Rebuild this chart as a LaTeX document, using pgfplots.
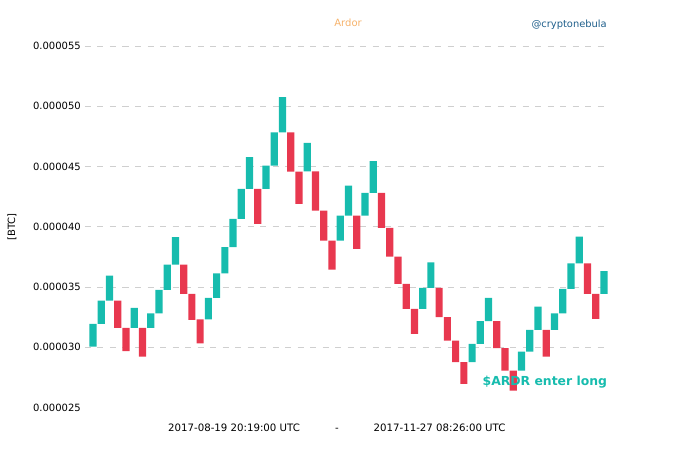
\documentclass[border=0pt]{standalone}
\usepackage{pgfplots}
\pgfplotsset{compat=1.18}
\usepackage{pgfplotstable}
\usepackage{fontspec}
\setmainfont{DejaVu Sans}
\definecolor{up}{HTML}{17BCAE}
\definecolor{down}{HTML}{E8384F}
\definecolor{ttl}{HTML}{F6B26B}
\definecolor{wm}{HTML}{1F5F8B}
\definecolor{gridc}{HTML}{CFCFCF}
\pgfplotstableread{
x low high c
1 30.06 31.94 1
2 31.94 33.88 1
3 33.88 35.95 1
4 31.61 33.88 0
5 29.67 31.61 0
6 31.61 33.27 1
7 29.23 31.61 0
8 31.61 32.82 1
9 32.82 34.76 1
10 34.76 36.86 1
11 36.86 39.13 1
12 34.43 36.86 0
13 32.27 34.43 0
14 30.33 32.32 0
15 32.32 34.10 1
16 34.10 36.14 1
17 36.14 38.30 1
18 38.30 40.66 1
19 40.66 43.15 1
20 43.15 45.77 1
21 40.24 43.15 0
22 43.15 45.08 1
23 45.08 47.84 1
24 47.84 50.75 1
25 44.58 47.84 0
26 41.90 44.58 0
27 44.60 46.96 1
28 41.34 44.60 0
29 38.85 41.34 0
30 36.45 38.85 0
31 38.85 40.93 1
32 40.93 43.42 1
33 38.17 40.93 0
34 40.93 42.81 1
35 42.81 45.44 1
36 39.91 42.81 0
37 37.53 39.91 0
38 35.26 37.53 0
39 33.19 35.26 0
40 31.11 33.19 0
41 33.19 34.93 1
42 34.93 37.05 1
43 32.49 34.93 0
44 30.56 32.49 0
45 28.76 30.56 0
46 26.96 28.76 0
47 28.76 30.28 1
48 30.28 32.16 1
49 32.16 34.10 1
50 29.92 32.16 0
51 28.07 29.92 0
52 26.41 28.07 0
53 28.07 29.64 1
54 29.64 31.44 1
55 31.44 33.38 1
56 29.23 31.44 0
57 31.44 32.82 1
58 32.82 34.85 1
59 34.85 36.97 1
60 36.97 39.19 1
61 34.43 36.97 0
62 32.36 34.43 0
63 34.43 36.31 1
}\bricks
\begin{document}
\begin{tikzpicture}
\path[use as bounding box] (-85pt,-46pt) rectangle (595pt,407.5pt);
\begin{axis}[
  at={(0,0)}, anchor=south west,
  scale only axis, width=523pt, height=361.5pt,
  xmin=0.03, xmax=63.49, ymin=25, ymax=55,
  axis line style={draw=none},
  major tick length=0pt,
  xtick=\empty,
  ytick={30,35,40,45,50,55},
  yticklabels={0.000030,0.000035,0.000040,0.000045,0.000050,0.000055},
  extra y ticks={25},
  extra y tick labels={0.000025},
  extra y tick style={grid=none},
  yticklabel style={font=\fontsize{10}{12}\selectfont, text=black, inner sep=0pt, anchor=east, xshift=-4pt},
  ymajorgrids,
  grid style={draw=gridc, line width=0.8pt, dash pattern=on 6pt off 6.5pt},
  ybar stacked, bar width=7.2pt,
  clip=false,
]
\node[anchor=east, inner sep=0pt, text=up, font=\bfseries\fontsize{12.4}{14}\selectfont] at (axis cs:63.4,27.07) {\$ARDR enter long};
\addplot[draw=none, fill=none] table[x=x, y=low] {\bricks};
\addplot[draw=none, fill=up] table[x=x, y expr={\thisrow{c}*(\thisrow{high}-\thisrow{low})}] {\bricks};
\addplot[draw=none, fill=down] table[x=x, y expr={(1-\thisrow{c})*(\thisrow{high}-\thisrow{low})}] {\bricks};
\node[anchor=base, inner sep=0pt, text=ttl, font=\fontsize{10}{12}\selectfont] at (rel axis cs:0.503,1) [yshift=19.5pt] {Ardor};
\node[anchor=base east, inner sep=0pt, text=wm, font=\fontsize{9.9}{12}\selectfont] at (rel axis cs:0.998,1) [yshift=18.5pt] {@cryptonebula};
\node[rotate=90, font=\fontsize{10}{12}\selectfont, text=black] at (axis description cs:-0.1396,0.5) {[BTC]};
\node[anchor=base, font=\fontsize{10.2}{12}\selectfont, text=black] at (rel axis cs:0.285,0) [yshift=-24pt] {2017-08-19 20:19:00 UTC};
\node[anchor=base, font=\fontsize{10.2}{12}\selectfont, text=black] at (rel axis cs:0.482,0) [yshift=-24pt] {-};
\node[anchor=base, font=\fontsize{10.2}{12}\selectfont, text=black] at (rel axis cs:0.678,0) [yshift=-24pt] {2017-11-27 08:26:00 UTC};
\end{axis}
\end{tikzpicture}
\end{document}
